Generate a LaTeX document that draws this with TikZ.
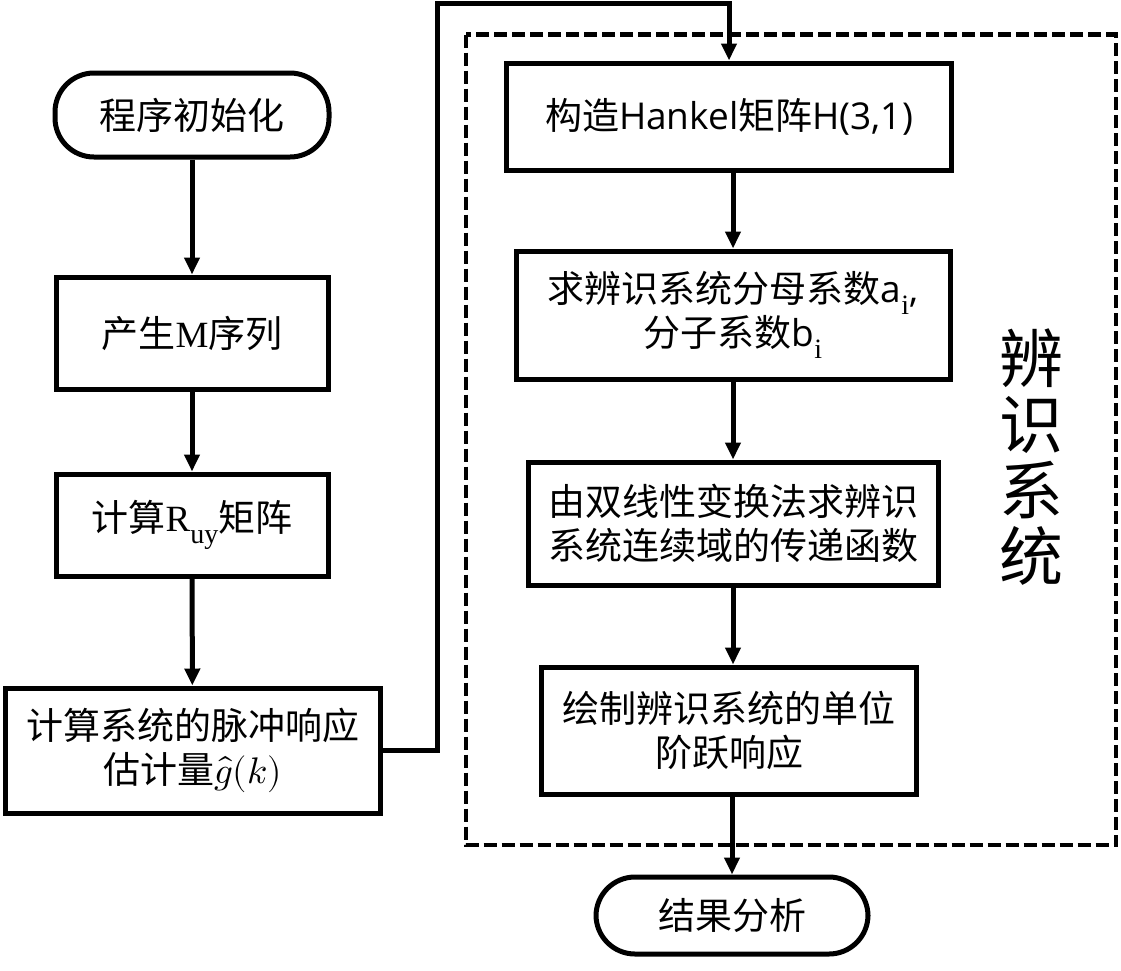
\documentclass[tikz,border=0pt]{standalone}
\usepackage{fontspec}
\usepackage{unicode-math}
\setmainfont{Liberation Serif}
\setmathfont{Latin Modern Math}
\newfontfamily\cjk{Noto Sans CJK SC}
\newfontfamily\sansf{Open Sans}
\usetikzlibrary{arrows.meta}
\newcommand{\zh}[1]{{\cjk #1}}
\newcommand{\subtx}[1]{\raisebox{-0.32em}{\fontsize{28}{28}\selectfont #1}}
\begin{document}
\begin{tikzpicture}[x=1pt,y=-1pt,
  box/.style={draw, line width=5pt, align=center, inner sep=0pt,
    font=\fontsize{37}{44}\selectfont},
  term/.style={box, rounded corners=39pt},
  arr/.style={line width=5pt, -{Triangle[length=17pt,width=15pt]}},
  conn/.style={line width=5pt, -{Triangle[length=17pt,width=15pt]}},
  grp/.style={line width=4.5pt, dash pattern=on 13pt off 5pt}]
\useasboundingbox (0,0) rectangle (1121,970);
% left column
\node[term, minimum width=274pt, minimum height=84pt] (start) at (192,115) {\zh{程序初始化}};
\node[box, minimum width=272pt, minimum height=112pt] (mseq) at (192,333) {\zh{产生}M\zh{序列}};
\node[box, minimum width=272pt, minimum height=102pt] (ruy) at (192,525) {\zh{计算}R\subtx{uy}\zh{矩阵}};
\node[box, minimum width=375pt, minimum height=125pt] (gk) at (192.5,750.5) {\zh{计算系统的脉冲响应}\\\zh{估计量}$\hat{g}(k)$};
% group frame
\draw[grp] (466,34.5) rectangle (1116,845);
\node[font=\fontsize{64}{66}\selectfont, align=center, inner sep=0pt] (grplabel) at (1031,457) {\zh{辨}\\\zh{识}\\\zh{系}\\\zh{统}};
% right column
\node[box, minimum width=445pt, minimum height=107pt] (hankel) at (729,116.5) {\zh{构造}{\sansf Hankel}\zh{矩阵}{\sansf H(3,1)}};
\node[box, minimum width=434pt, minimum height=128pt] (ai) at (733,315) {\zh{求辨识系统分母系数}{\sansf a}\subtx{i}{\sansf ,}\\\zh{分子系数}{\sansf b}\subtx{i}};
\node[box, minimum width=410pt, minimum height=123pt] (bil) at (733,523.5) {\zh{由双线性变换法求辨识}\\\zh{系统连续域的传递函数}};
\node[box, minimum width=375pt, minimum height=127pt] (stepresp) at (729,730.5) {\zh{绘制辨识系统的单位}\\\zh{阶跃响应}};
\node[term, minimum width=272pt, minimum height=77pt] (result) at (732,915.5) {\zh{结果分析}};
% connectors
\draw[arr] (start) -- (mseq);
\draw[arr] (mseq) -- (ruy);
\draw[arr] (ruy) -- (gk);
\coordinate (up) at (437.5,3.5);
\draw[conn] (gk.east) -| (up) -| (hankel.north);
\draw[arr] (hankel.south -| ai.north) -- (ai.north);
\draw[arr] (ai.south -| bil.north) -- (bil.north);
\draw[arr] (bil.south) -- (bil.south |- stepresp.north);
\draw[arr] (stepresp.south -| result.north) -- (result.north);
\end{tikzpicture}
\end{document}
